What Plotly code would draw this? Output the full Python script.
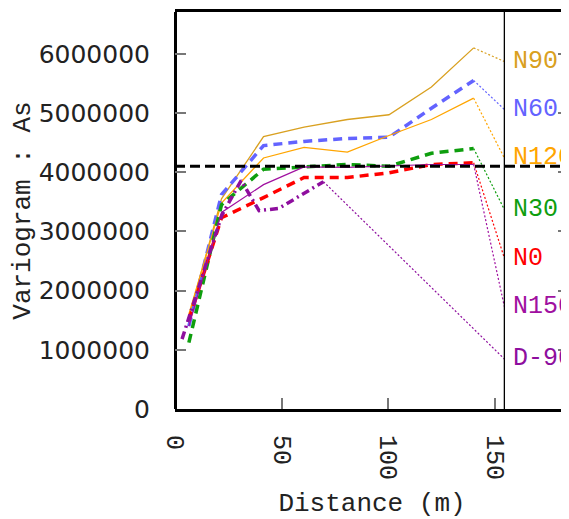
import plotly.graph_objects as go

# ---- data ----
lags = [6.5, 21.8, 41.5, 60.5, 80.8, 100.3, 120.2, 140.0]
n0 = [1.50e6, 3.23e6, 3.57e6, 3.91e6, 3.91e6, 3.99e6, 4.13e6, 4.16e6]
n30 = [1.12e6, 3.45e6, 4.05e6, 4.09e6, 4.13e6, 4.10e6, 4.32e6, 4.40e6]
n60 = [1.40e6, 3.62e6, 4.45e6, 4.52e6, 4.57e6, 4.59e6, 5.08e6, 5.55e6]
n90 = [1.55e6, 3.55e6, 4.60e6, 4.76e6, 4.89e6, 4.97e6, 5.44e6, 6.10e6]
n120 = [1.60e6, 3.48e6, 4.24e6, 4.42e6, 4.34e6, 4.62e6, 4.89e6, 5.25e6]
n150 = [1.40e6, 3.32e6, 3.79e6, 4.09e6, 4.08e6, 4.11e6, 4.13e6, 4.13e6]
d90_lags = [3.3, 21.9, 31.0, 39.4, 48.8, 69.6]
d90 = [1.18e6, 3.27e6, 3.86e6, 3.35e6, 3.39e6, 3.84e6]

labels = ["N90", "N60", "N120", "N30", "N0", "N150", "D-90"]
label_y = [5.87e6, 5.06e6, 4.24e6, 3.37e6, 2.55e6, 1.73e6, 0.845e6]
label_x = 154.4
sill = 4.10e6
yticks = [0, 1000000, 2000000, 3000000, 4000000, 5000000, 6000000]
xticks = [0, 50, 100, 150]

MONO = "Liberation Mono, Courier New, monospace"

series = {
    "N90": (lags, n90, "#D9A020", "solid", 1.3),
    "N60": (lags, n60, "#6363FF", "9px,6px", 3.5),
    "N120": (lags, n120, "#FFA500", "solid", 1.3),
    "N30": (lags, n30, "#0E9E0E", "9px,6px", 3.5),
    "N0": (lags, n0, "#FF0000", "9px,6px", 3.5),
    "N150": (lags, n150, "#A010A0", "solid", 1.2),
    "D-90": (d90_lags, d90, "#8E0E9E", "8px,4px,2px,4px", 3.5),
}

fig = go.Figure()
for name, ly in zip(labels, label_y):
    xs, ys, col, dash, w = series[name]
    fig.add_trace(go.Scatter(x=xs, y=ys, mode="lines", name=name,
                             line=dict(color=col, width=w, dash=dash),
                             showlegend=False))
    fig.add_trace(go.Scatter(x=[xs[-1], label_x], y=[ys[-1], ly], mode="lines",
                             line=dict(color=col, width=1.2, dash="2px,2px"),
                             showlegend=False))
    fig.add_annotation(x=label_x, y=ly, xref="x", yref="y", text=name,
                       showarrow=False, xanchor="left", yanchor="middle",
                       xshift=7, font=dict(family=MONO, size=25, color=col))

fig.add_hline(y=sill, line=dict(color="black", width=3, dash="10px,5px"), layer="above")
fig.add_vline(x=label_x, line=dict(color="black", width=1.3), layer="above")

fig.update_layout(
    width=561, height=511,
    margin=dict(l=167, r=0, t=4, b=110),
    plot_bgcolor="white", paper_bgcolor="white",
    xaxis=dict(range=[0, 184.7], tickvals=xticks, ticktext=[str(v) for v in xticks],
               ticks="inside", ticklen=11, tickwidth=2, tickcolor="#777777",
               tickangle=90, ticklabelstandoff=18,
               tickfont=dict(family=MONO, size=25, color="#222222"),
               showline=True, linecolor="black", linewidth=3, mirror=True,
               showgrid=False, zeroline=True, zerolinecolor="black", zerolinewidth=3,
               title=dict(text="Distance (m)", standoff=17,
                          font=dict(family=MONO, size=26, color="#222222"))),
    yaxis=dict(range=[0, 6.706e6], tickvals=yticks, ticktext=[str(v) for v in yticks],
               ticks="inside", ticklen=11, tickwidth=2, tickcolor="#777777",
               ticklabelstandoff=24, mirror="ticks",
               tickfont=dict(family="DejaVu Sans", size=25, color="#222222"),
               showline=False, showgrid=False, zeroline=False,
               title=dict(text="Variogram : As", standoff=5,
                          font=dict(family=MONO, size=26, color="#222222"))),
)

fig.write_html("out.html")
